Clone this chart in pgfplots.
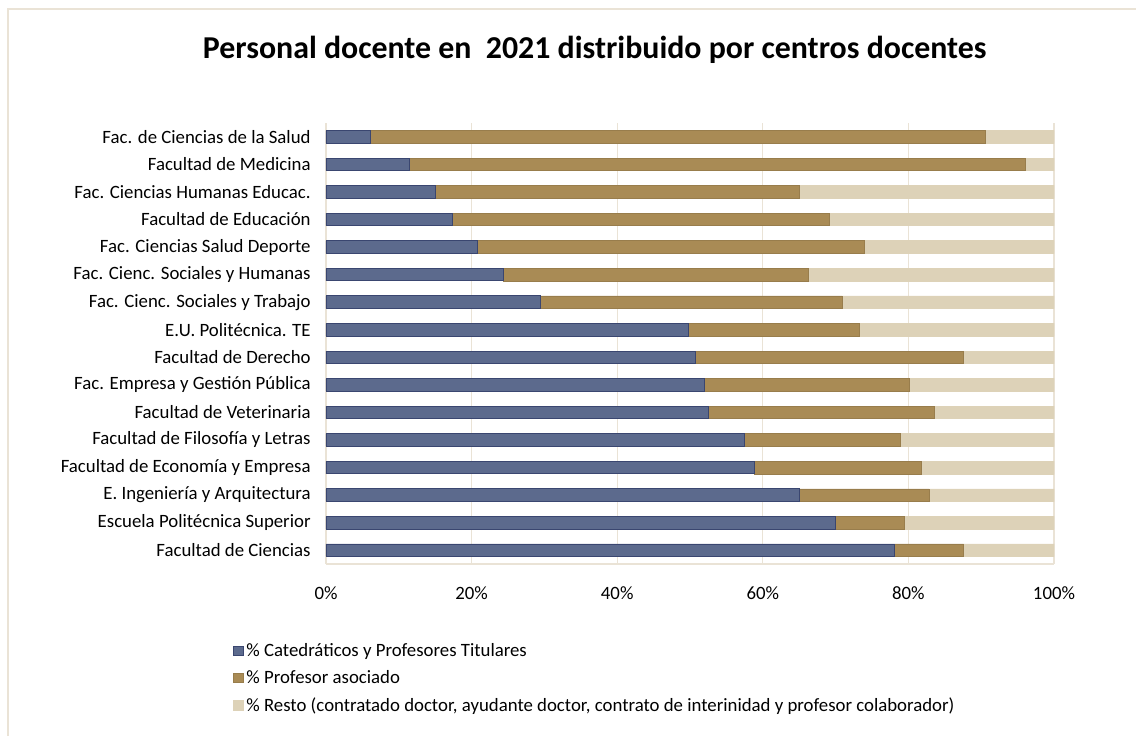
\documentclass[border=0pt]{standalone}
\usepackage{pgfplots}
\pgfplotsset{compat=1.18}
\usepackage{pgfplotstable}
\usepackage{fontspec}
\setmainfont{Carlito}

\definecolor{catblue}{HTML}{5C6A8D}
\definecolor{catedge}{HTML}{3A4670}
\definecolor{asoc}{HTML}{A98B55}
\definecolor{resto}{HTML}{DDD2B8}
\definecolor{gridc}{HTML}{EAE3D6}

% idx 0 = bottom bar
\pgfplotstableread{
idx cat asoc resto
0  78.1  9.5 12.4
1  70.0  9.4 20.6
2  65.0 17.8 17.2
3  58.8 23.0 18.2
4  57.5 21.4 21.1
5  52.5 31.0 16.5
6  52.0 28.1 19.9
7  50.7 36.8 12.5
8  49.8 23.5 26.7
9  29.4 41.5 29.1
10 24.3 42.0 33.7
11 20.8 53.2 26.0
12 17.4 51.7 30.9
13 15.0 50.0 35.0
14 11.5 84.6  3.9
15  6.1 84.5  9.4
}\datos

\begin{document}
\begin{tikzpicture}[x=1pt,y=1pt]
\useasboundingbox (0,0) rectangle (852,552);
\draw[gridc,line width=1.5pt] (6,0) -- (6,545.25) -- (852,545.25);
\node[font=\bfseries\fontsize{23.9}{26}\selectfont] at (446,514.5) {Personal docente en\ \ 2021 distribuido por centros docentes};
\begin{axis}[
  at={(244.5pt,129pt)}, anchor=south west,
  scale only axis, width=546pt, height=330.75pt,
  xbar stacked, bar width=9.4pt,
  xmin=0, xmax=100, ymin=-0.5, ymax=15.5,
  xtick={0,20,40,60,80,100},
  xticklabel={\pgfmathprintnumber{\tick}\%},
  ytick={0,...,15},
  yticklabels={Facultad de Ciencias,Escuela Politécnica Superior,E. Ingeniería y Arquitectura,Facultad de Economía y Empresa,Facultad de Filosofía y Letras,Facultad de Veterinaria,Fac. Empresa y Gestión Pública,Facultad de Derecho,E.U. Politécnica. TE,Fac. Cienc. Sociales y Trabajo,Fac. Cienc. Sociales y Humanas,Fac. Ciencias Salud Deporte,Facultad de Educación,Fac. Ciencias Humanas Educac.,Facultad de Medicina,Fac. de Ciencias de la Salud},
  /pgf/number format/assume math mode=true,
  tick label style={font=\fontsize{14.1}{16}\selectfont, black},
  xticklabel style={yshift=-13.2pt},
  yticklabel style={xshift=-8pt},
  major tick length=0pt,
  xmajorgrids, grid style={gridc, line width=1pt},
  axis x line*=bottom, axis y line*=left,
  axis line style={gridc, line width=1pt, -},
  legend cell align=left,
  legend style={at={(-0.128,-0.173)}, anchor=north west, draw=none, fill=none,
    font=\fontsize{14.1}{16}\selectfont, row sep=5.1pt, inner sep=0pt,
    /tikz/every even column/.append style={column sep=2pt}},
  legend image code/.code={\draw[#1] (0pt,-3.6pt) rectangle (7.4pt,3.6pt);},
]
\addplot[fill=catblue, draw=catedge, line width=0.6pt] table[x=cat, y=idx] {\datos};
\addplot[fill=asoc, draw=asoc!90!black, line width=0.4pt] table[x=asoc, y=idx] {\datos};
\addplot[fill=resto, draw=resto, line width=0.4pt] table[x=resto, y=idx] {\datos};
\legend{\% Catedráticos y Profesores Titulares,\% Profesor asociado,{\% Resto (contratado doctor, ayudante doctor, contrato de interinidad y profesor colaborador)}}
\end{axis}
\end{tikzpicture}
\end{document}
